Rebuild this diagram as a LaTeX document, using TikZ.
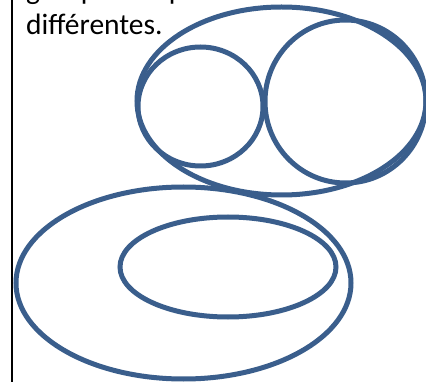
\documentclass[tikz,border=0pt]{standalone}
\usepackage{fontspec}
\setmainfont{Carlito}
\definecolor{shapeblue}{RGB}{58,94,140}
\begin{document}
\begin{tikzpicture}[x=1pt,y=-1pt,
  oval/.style={draw=shapeblue,line width=5pt},
  txt/.style={anchor=base west,inner sep=0pt,font=\fontsize{29.5}{35}\selectfont}]
\useasboundingbox (0,0) rectangle (426,382);
\clip (0,0) rectangle (426,382);
\fill[white] (0,0) rectangle (426,382);
\draw[line width=1.6pt,black] (11.8,-5) -- (11.8,390);
\node[txt] (l1) at (26,0) {groupes les plus};
\node[txt] (l2) at (26,35) {différentes.};
\draw[oval] (281.5,101) ellipse [x radius=144.5,y radius=94];
\draw[oval] (200.5,106.5) ellipse [x radius=62.5,y radius=59.5];
\draw[oval] (345.5,101.5) ellipse [x radius=80.5,y radius=81.5];
\draw[oval] (183.5,283) ellipse [x radius=167.5,y radius=96];
\draw[oval] (228,267) ellipse [x radius=108,y radius=50];
\end{tikzpicture}
\end{document}
